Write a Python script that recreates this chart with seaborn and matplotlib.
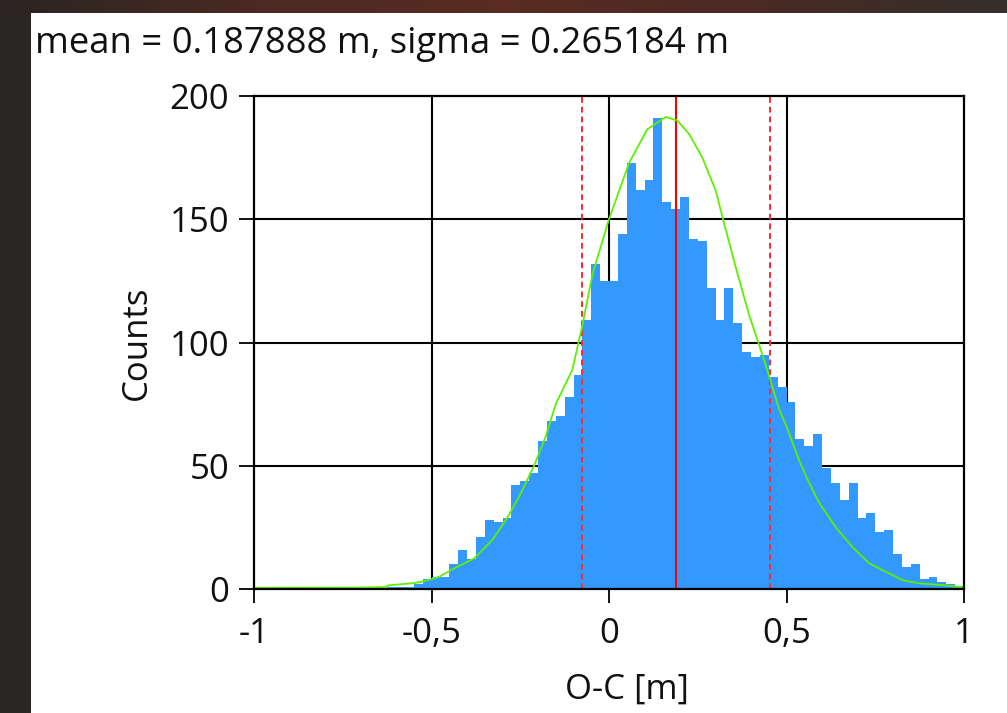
import numpy as np
import pandas as pd
import matplotlib
matplotlib.use("Agg")
import matplotlib.pyplot as plt
import seaborn as sns
from matplotlib.patches import Rectangle
from matplotlib.colors import LinearSegmentedColormap

# histogram of O-C residuals: 80 bins of 0.025 m between -1 and 1
bin_lo, bin_hi, n_bins = -1.0, 1.0, 80
counts = [
    1, 0, 0, 0, 0, 0, 0, 0, 0, 0,
    0, 0, 0, 0, 0, 1, 1, 1, 2, 4,
    5, 5, 10, 16, 12, 21, 28, 27, 29, 42,
    44, 47, 60, 68, 70, 78, 87, 109, 132, 125,
    125, 144, 173, 162, 166, 191, 157, 154, 159, 142,
    141, 122, 109, 122, 108, 96, 94, 95, 86, 82,
    76, 61, 58, 63, 49, 43, 36, 43, 29, 31,
    23, 24, 14, 9, 10, 4, 5, 3, 2, 1,
]

mean_oc = 0.187888
sigma_oc = 0.265184

# green fit curve
fit_x = [-1.0, -0.7, -0.63, -0.62, -0.549, -0.526, -0.5, -0.478, -0.441, -0.38,
         -0.328, -0.286, -0.253, -0.211, -0.178, -0.15, -0.103, -0.075, -0.046, 0.0,
         0.057, 0.108, 0.16, 0.193, 0.226, 0.263, 0.301, 0.32, 0.357, 0.395,
         0.423, 0.451, 0.479, 0.5, 0.536, 0.564, 0.592, 0.639, 0.686, 0.733,
         0.78, 0.827, 0.874, 0.939, 0.986, 1.0]
fit_y = [0.5, 0.6, 0.8, 1.5, 2.4, 3.0, 4.0, 5.0, 8.0, 12.4,
         20, 29, 37.5, 50, 62, 75, 89, 107, 128, 150,
         173, 186.5, 191.5, 190, 184.5, 175, 161.5, 150.7, 130.5, 111,
         99, 86.5, 73, 66, 52, 43, 35, 25, 17, 10.4,
         7, 3.6, 2.3, 1.6, 0.9, 0.8]

x_ticks = [-1, -0.5, 0, 0.5, 1]
x_tick_labels = ["-1", "-0,5", "0", "0,5", "1"]
y_ticks = [0, 50, 100, 150, 200]

sns.set_theme(style="ticks")
plt.rcParams['font.family'] = ['Open Sans', 'DejaVu Sans']
FS = 25

W, H = 1007, 713
fig = plt.figure(figsize=(W / 100, H / 100), dpi=100)
fig.patch.set_facecolor('#2a2523')

# dark screenshot frame: brownish strip along the top
bg = fig.add_axes([0, 0, 1, 1], zorder=-20)
bg.axis('off')
strip = LinearSegmentedColormap.from_list(
    'strip', ['#2a2522', '#4a2a22', '#5a2c22', '#4a2a24', '#35302c'])
bg.imshow(np.linspace(0, 1, 256)[None, :], cmap=strip, aspect='auto',
          extent=(0, 1, 700 / H, 1))
bg.set_xlim(0, 1)
bg.set_ylim(0, 1)
bg.add_patch(Rectangle((0, 0), 31 / W, 700 / H, facecolor='#2a2624', edgecolor='none'))
bg.add_patch(Rectangle((31 / W, 0), 1, 700 / H, facecolor='white', edgecolor='none'))

ax = fig.add_axes([254 / W, (H - 589) / H, (964 - 254) / W, (589 - 96) / H])
ax.set_facecolor('white')

bw = (bin_hi - bin_lo) / n_bins
centers = bin_lo + bw * (np.arange(n_bins) + 0.5)
df = pd.DataFrame({'oc': centers, 'n': counts})
sns.histplot(data=df, x='oc', weights='n', binwidth=bw, binrange=(bin_lo, bin_hi),
             color='#3399ff', alpha=1, edgecolor='none', linewidth=0, ax=ax, zorder=2)

ax.axvline(mean_oc, color='#ff0000', lw=1.5, zorder=3)
for v in (mean_oc - sigma_oc, mean_oc + sigma_oc):
    ax.axvline(v, color='#ff2a2a', lw=1.4, dashes=(3, 2), zorder=3)

sns.lineplot(x=fit_x, y=fit_y, color='#5ef000', lw=1.3, ax=ax, zorder=4)

ax.set_xlim(bin_lo, bin_hi)
ax.set_ylim(0, 200)
ax.set_xticks(x_ticks)
ax.set_xticklabels(x_tick_labels)
ax.set_yticks(y_ticks)
for v in [-0.5, 0, 0.5]:
    ax.axvline(v, color='black', lw=1.5, zorder=1)
for v in [50, 100, 150]:
    ax.axhline(v, color='black', lw=1.5, zorder=1)

for s in ax.spines.values():
    s.set_visible(True)
    s.set_color('black')
    s.set_linewidth(1.6)
    s.set_zorder(5)

ax.tick_params(axis='both', direction='out', color='black', width=1.3,
               labelsize=FS, labelcolor='#111111')
ax.tick_params(axis='x', length=10, pad=10)
ax.tick_params(axis='y', length=11, pad=7)

ax.set_xlabel("O-C [m]", fontsize=FS, color='#111111')
ax.set_ylabel("Counts", fontsize=FS, color='#111111')
ax.xaxis.label.set_va('center')
ax.yaxis.label.set_va('center')
ax.xaxis.set_label_coords((627 - 254) / (964 - 254), -(690 - 589) / (589 - 96))
ax.yaxis.set_label_coords(-(254 - 137) / (964 - 254), 0.5)

fig.text(35 / W, 1 - 44 / H, f"mean = {mean_oc:.6f} m, sigma = {sigma_oc:.6f} m",
         fontsize=26.3, color='#111111', va='center', ha='left')

fig.savefig("out.png", dpi=100, facecolor=fig.get_facecolor())
